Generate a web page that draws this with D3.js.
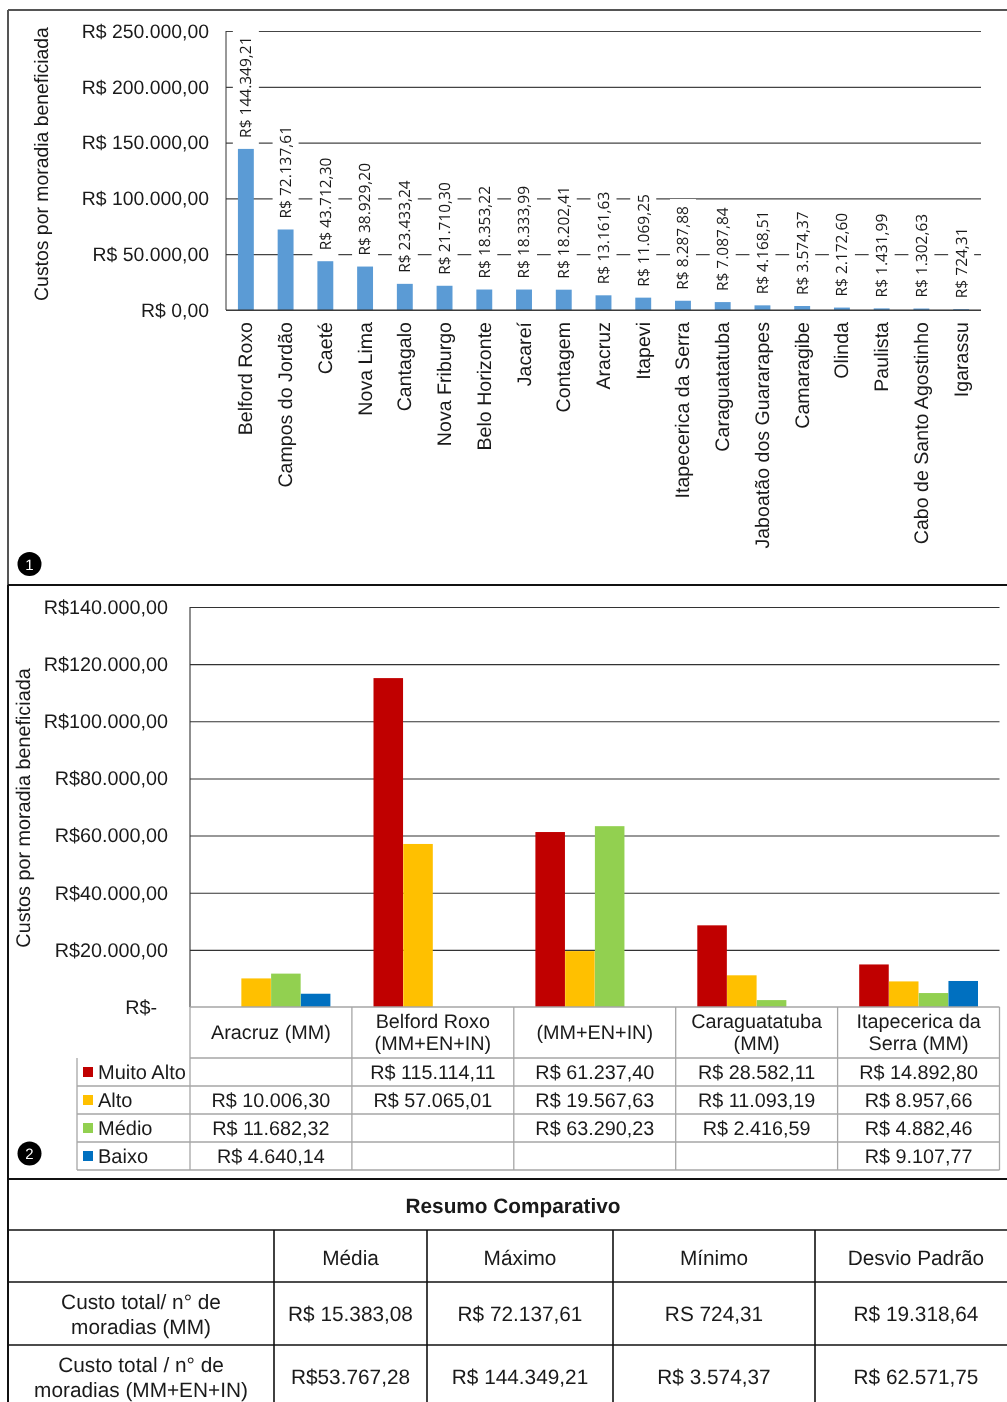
<!DOCTYPE html>
<html><head><meta charset="utf-8">
<script src="https://cdn.jsdelivr.net/npm/d3@7"></script>
<style>html,body{margin:0;padding:0;background:#fff}svg{display:block;filter:blur(0.35px)}text{font-family:"Liberation Sans",Arial,sans-serif;fill:#1a1a1a}</style>
</head><body><svg id="c" width="1007" height="1402"></svg>
<script>
const cities=["Belford Roxo","Campos do Jordão","Caeté","Nova Lima","Cantagalo","Nova Friburgo","Belo Horizonte","Jacareí","Contagem","Aracruz","Itapevi","Itapecerica da Serra","Caraguatatuba","Jaboatão dos Guararapes","Camaragibe","Olinda","Paulista","Cabo de Santo Agostinho","Igarassu"];
const cityCosts=[144349.21,72137.61,43712.30,38929.20,23433.24,21710.30,18353.22,18333.99,18202.41,13161.63,11069.25,8287.88,7087.84,4168.51,3574.37,2172.60,1431.99,1302.63,724.31];
const ticksTop=[0,50000,100000,150000,200000,250000];
const ticksBottom=[20000,40000,60000,80000,100000,120000,140000];
const groups=[["Aracruz (MM)"],["Belford Roxo","(MM+EN+IN)"],["(MM+EN+IN)"],["Caraguatatuba","(MM)"],["Itapecerica da","Serra (MM)"]];
const levels=["Muito Alto","Alto","Médio","Baixo"];
const levelColors=["#C00000","#FFC000","#92D050","#0070C0"];
const muitoAlto=[null,115114.11,61237.40,28582.11,14892.80];
const alto=[10006.30,57065.01,19567.63,11093.19,8957.66];
const medio=[11682.32,null,63290.23,2416.59,4882.46];
const baixo=[4640.14,null,null,null,9107.77];
const yTitle="Custos por moradia beneficiada";
const resumoTitle="Resumo Comparativo";
const resumoHead=["Média","Máximo","Mínimo","Desvio Padrão"];
const resumoRows=[[["Custo total/ n° de","moradias (MM)"],"R$ 15.383,08","R$ 72.137,61","RS 724,31","R$ 19.318,64"],
[["Custo total / n° de","moradias (MM+EN+IN)"],"R$53.767,28","R$ 144.349,21","R$ 3.574,37","R$ 62.571,75"]];

const br=d3.formatLocale({decimal:",",thousands:".",grouping:[3],currency:["R$ ",""]});
const money=br.format("$,.2f");
const moneyTight=v=>v===0?"R$-":"R$"+br.format(",.2f")(v);
const svg=d3.select("#c").attr("text-rendering","geometricPrecision");
const FS=19.4, FS2=19.8, FS3=20.8;
function line(x1,y1,x2,y2,c,w){svg.append("line").attr("x1",x1).attr("y1",y1).attr("x2",x2).attr("y2",y2).attr("stroke",c).attr("stroke-width",w)}
function txt(x,y,s,o={}){return svg.append("text").attr("x",x).attr("y",y).attr("text-anchor",o.a||"middle").attr("font-size",o.fs||FS2).attr("font-weight",o.w||null).text(s)}

// ---- chart 1
const x1=d3.scaleBand().domain(cities).range([226,981]).paddingInner(0.6).paddingOuter(0.3);
const y1=d3.scaleLinear().domain([0,250000]).range([310,31]);
const g1=svg.append("g");
g1.append("g").attr("transform","translate(226,0)")
 .call(d3.axisLeft(y1).tickValues(ticksTop).tickSize(-755).tickPadding(17).tickFormat(money))
 .call(a=>{a.select(".domain").remove();a.selectAll("line").attr("stroke","#444").attr("stroke-width",1.2);a.selectAll("text").attr("font-size",FS).attr("fill","#1a1a1a")});
line(226,31,226,310,"#333",1);
line(226,310,981,310,"#333",1.2);
const lab=g1.selectAll("g.l").data(cities).join("g").attr("class","l")
 .attr("transform",(d,i)=>`translate(${x1(d)+x1.bandwidth()/2},${y1(cityCosts[i])-11})`);
lab.append("rect").attr("x",-13).attr("width",26).attr("fill","#fff");
lab.append("text").attr("transform","rotate(-90)").attr("x",0).attr("y",5.4).attr("text-anchor","start")
 .attr("font-size",15.5).style("font-family","'Open Sans'")
 .text((d,i)=>money(cityCosts[i]));
lab.each(function(){const n=d3.select(this),w=n.select("text").node().getComputedTextLength();
 n.select("rect").attr("y",-w-7).attr("height",w+14)});
g1.selectAll("rect.b").data(cities).join("rect").attr("class","b")
 .attr("x",d=>x1(d)).attr("width",x1.bandwidth())
 .attr("y",(d,i)=>y1(cityCosts[i])).attr("height",(d,i)=>310-y1(cityCosts[i])).attr("fill","#5B9BD5");
g1.selectAll("text.c").data(cities).join("text").attr("class","c")
 .attr("transform",d=>`translate(${x1(d)+x1.bandwidth()/2+6.5},322) rotate(-90)`)
 .attr("text-anchor","end").attr("font-size",19.6).text(d=>d);
svg.append("text").attr("transform","translate(48,164) rotate(-90)").attr("text-anchor","middle").attr("font-size",FS).text(yTitle);

// ---- chart 2
const x2=d3.scaleBand().domain(d3.range(groups.length)).range([190,999.5]);
const y2=d3.scaleLinear().domain([0,140000]).range([1007,607]);
const inner=d3.scaleBand().domain(levels).range([21.5,140.5]);
const series=[muitoAlto,alto,medio,baixo];
svg.append("g").attr("transform","translate(190,0)")
 .call(d3.axisLeft(y2).tickValues(ticksBottom).tickSize(-809.5).tickPadding(22).tickFormat(moneyTight))
 .call(a=>{a.select(".domain").remove();a.selectAll("line").attr("stroke","#333").attr("stroke-width",1.1);a.selectAll("text").attr("font-size",FS2).attr("fill","#1a1a1a")});
line(190,607,190,1007,"#333",1.1);
txt(157,1014,moneyTight(0),{a:"end"});
series.forEach((s,k)=>{
 const pts=s.map((v,i)=>({v,i})).filter(d=>d.v!==null);
 svg.append("g").selectAll("rect").data(pts).join("rect")
  .attr("x",d=>x2(d.i)+inner(levels[k])+0.1).attr("width",inner.bandwidth()-0.2)
  .attr("y",d=>y2(d.v)).attr("height",d=>1007-y2(d.v)).attr("fill",levelColors[k]);
});
svg.append("text").attr("transform","translate(30,808) rotate(-90)").attr("text-anchor","middle").attr("font-size",FS2).text(yTitle);

// data table
const rowY=d3.scaleBand().domain(levels).range([1058,1170]);
const grey="#a6a6a6";
line(190,1007,999.5,1007,grey,1.3);
line(190,1058,999.5,1058,grey,1.3);
levels.forEach(l=>line(77,rowY(l)+rowY.bandwidth(),999.5,rowY(l)+rowY.bandwidth(),grey,1.3));
line(77,1058,77,1170,grey,1.3);
d3.range(groups.length+1).forEach(i=>{const X=i<groups.length?x2(i):999.5;line(X,1007,X,1170,grey,1.3)});
groups.forEach((g,i)=>{const cx=x2(i)+x2.bandwidth()/2;
 if(g.length===1)txt(cx,1039,g[0]);else{txt(cx,1028,g[0]);txt(cx,1050,g[1])}});
levels.forEach((l,k)=>{const cy=rowY(l)+rowY.bandwidth()/2;
 svg.append("rect").attr("x",83).attr("y",cy-5).attr("width",10).attr("height",10).attr("fill",levelColors[k]);
 txt(98,cy+7,l,{a:"start",fs:20});
 series[k].forEach((v,i)=>{if(v!==null)txt(x2(i)+x2.bandwidth()/2,cy+7,money(v))});
});

// markers
[[1,564],[2,1153.5]].forEach(([n,cy])=>{svg.append("circle").attr("cx",29.5).attr("cy",cy).attr("r",12).attr("fill","#000");
 txt(29.5,cy+5.5,n,{fs:15}).style("fill","#fff")});

// resumo table (its last column runs past the page edge)
const colX=[8,274,427,613,815,1017];
const rowYs=[1179,1230,1282,1345,1402];
[1230,1282,1345].forEach(y=>line(8,y,1007,y,"#111",1.6));
colX.slice(1,5).forEach(x=>line(x,1230,x,1402,"#111",1.6));
txt(513,1213,resumoTitle,{w:"bold",fs:FS3});
resumoHead.forEach((h,i)=>txt((colX[i+1]+colX[i+2])/2,1264.5,h,{fs:FS3}));
resumoRows.forEach((r,k)=>{const cy=(rowYs[k+2]+rowYs[k+3])/2+(k?3:0);
 txt(141,cy-5,r[0][0],{fs:FS3});txt(141,cy+20,r[0][1],{fs:FS3});
 r.slice(1).forEach((v,i)=>txt((colX[i+1]+colX[i+2])/2,cy+7,v,{fs:FS3}));
});
// frame
line(8,10,1007,10,"#555",2);
line(8,10,8,585,"#555",2);
line(8,585,8,1402,"#111",2);
line(8,585,1007,585,"#111",2);
line(8,1179,1007,1179,"#111",2);
</script></body></html>
